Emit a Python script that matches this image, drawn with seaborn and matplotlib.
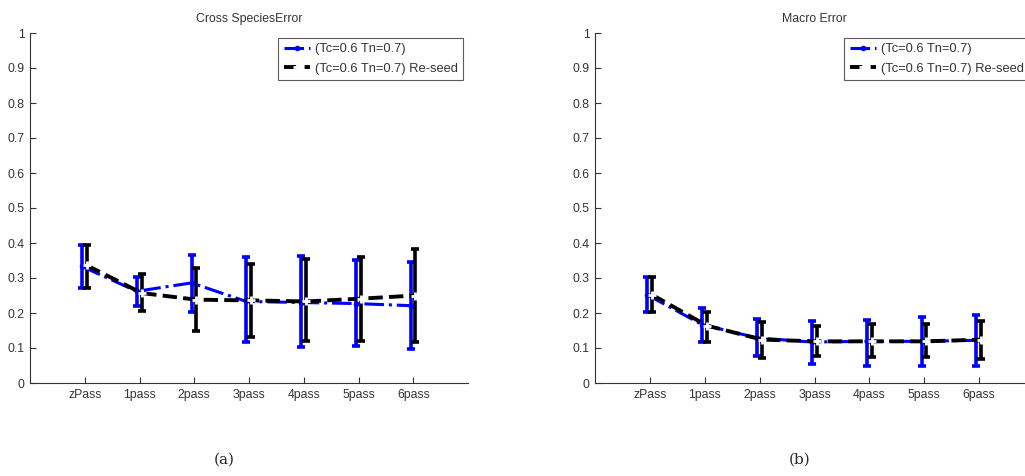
import matplotlib
matplotlib.use("Agg")
import matplotlib.pyplot as plt
import seaborn as sns
import numpy as np
import pandas as pd

passes = ["zPass", "1pass", "2pass", "3pass", "4pass", "5pass", "6pass"]
series_names = ["(Tc=0.6 Tn=0.7)", "(Tc=0.6 Tn=0.7) Re-seed"]

# Cross Species Error
cs_base_mean = [0.333, 0.262, 0.286, 0.233, 0.230, 0.227, 0.221]
cs_base_low = [0.271, 0.221, 0.203, 0.116, 0.102, 0.105, 0.098]
cs_base_high = [0.395, 0.303, 0.367, 0.359, 0.362, 0.352, 0.345]
cs_rs_mean = [0.336, 0.257, 0.238, 0.236, 0.233, 0.241, 0.250]
cs_rs_low = [0.271, 0.205, 0.148, 0.131, 0.119, 0.121, 0.116]
cs_rs_high = [0.395, 0.311, 0.329, 0.341, 0.355, 0.359, 0.384]

# Macro Error
ma_base_mean = [0.252, 0.167, 0.129, 0.117, 0.119, 0.119, 0.122]
ma_base_low = [0.202, 0.116, 0.078, 0.054, 0.048, 0.048, 0.048]
ma_base_high = [0.302, 0.214, 0.184, 0.178, 0.181, 0.189, 0.193]
ma_rs_mean = [0.252, 0.164, 0.124, 0.119, 0.119, 0.119, 0.124]
ma_rs_low = [0.202, 0.117, 0.071, 0.076, 0.073, 0.073, 0.070]
ma_rs_high = [0.302, 0.203, 0.173, 0.162, 0.170, 0.170, 0.178]

titles = ["Cross SpeciesError", "Macro Error"]
captions = ["(a)", "(b)"]

sns.set_style("white")
plt.rcParams["font.family"] = ["Liberation Sans", "DejaVu Sans"]

fig = plt.figure(figsize=(10.25, 4.76), dpi=100)
ax1 = fig.add_axes([30 / 1025, 1 - 383 / 476, 438 / 1025, 350 / 476])
ax2 = fig.add_axes([595 / 1025, 1 - 383 / 476, 439 / 1025, 350 / 476])

panels = [
    (ax1, cs_base_mean, cs_base_low, cs_base_high, cs_rs_mean, cs_rs_low, cs_rs_high),
    (ax2, ma_base_mean, ma_base_low, ma_base_high, ma_rs_mean, ma_rs_low, ma_rs_high),
]

FS = 8.8
x = np.arange(len(passes))
for i, (ax, bm, bl, bh, rm, rl, rh) in enumerate(panels):
    df = pd.DataFrame({
        "x": np.concatenate([x - 0.05, x + 0.04]),
        "y": bm + rm,
        "series": [series_names[0]] * len(x) + [series_names[1]] * len(x),
    })
    ax.errorbar(x - 0.05, bm, yerr=[np.array(bm) - np.array(bl), np.array(bh) - np.array(bm)],
                fmt="none", ecolor="#0000ff", elinewidth=2.6, capsize=3, capthick=2.6, zorder=2)
    ax.errorbar(x + 0.04, rm, yerr=[np.array(rm) - np.array(rl), np.array(rh) - np.array(rm)],
                fmt="none", ecolor="black", elinewidth=2.6, capsize=3, capthick=2.6, zorder=3)
    sns.lineplot(data=df[df.series == series_names[0]], x="x", y="y", ax=ax, color="#0000ff",
                 linestyle="-.", linewidth=2.2, marker="o", markersize=4, markeredgewidth=0,
                 label=series_names[0], zorder=4)
    sns.lineplot(data=df[df.series == series_names[1]], x="x", y="y", ax=ax, color="black",
                 linestyle="--", linewidth=2.8, marker="+", markersize=6, markeredgewidth=2,
                 label=series_names[1], zorder=5)
    ax.set_xlim(-1, 7)
    ax.set_ylim(0, 1)
    ax.set_xticks(x)
    ax.set_xticklabels(passes)
    ax.set_yticks(np.arange(0, 1.01, 0.1))
    ax.set_yticklabels(["0", "0.1", "0.2", "0.3", "0.4", "0.5", "0.6", "0.7", "0.8", "0.9", "1"])
    ax.set_xlabel("")
    ax.set_ylabel("")
    ax.set_title(titles[i], fontsize=FS, color="#333333", pad=8)
    for s in ["top", "right"]:
        ax.spines[s].set_visible(False)
    for s in ["left", "bottom"]:
        ax.spines[s].set_color("#333333")
        ax.spines[s].set_linewidth(0.8)
    ax.tick_params(axis="both", direction="in", length=4, width=0.8, labelsize=FS,
                   colors="#333333", pad=4, left=True, bottom=True)
    leg = ax.legend(loc="upper right", fontsize=9.3, frameon=True, fancybox=False,
                    borderaxespad=0.35, handlelength=2.0, handletextpad=0.4,
                    borderpad=0.45, labelspacing=0.55)
    leg.get_frame().set_edgecolor("#333333")
    leg.get_frame().set_linewidth(0.8)
    for t in leg.get_texts():
        t.set_color("#333333")

fig.text(224 / 1025, 1 - 460 / 476, captions[0], fontsize=11, ha="center", va="center",
         family=["DejaVu Serif"])
fig.text(800 / 1025, 1 - 460 / 476, captions[1], fontsize=11, ha="center", va="center",
         family=["DejaVu Serif"])

fig.savefig("out.png", dpi=100)
